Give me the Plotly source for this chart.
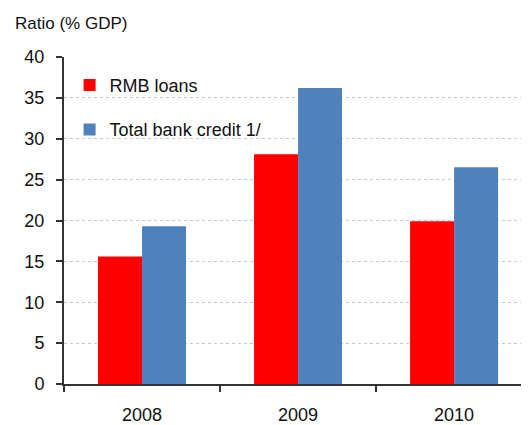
import plotly.graph_objects as go

years = ["2008", "2009", "2010"]
rmb_loans = [15.6, 28.1, 19.9]
total_credit = [19.3, 36.2, 26.5]
y_ticks = [0, 5, 10, 15, 20, 25, 30, 35, 40]

font = "Liberation Sans, Arial, sans-serif"

fig = go.Figure()
fig.add_trace(go.Bar(x=years, y=rmb_loans, name="RMB loans",
                     marker=dict(color="#ff0000", line=dict(width=0)),
                     legendgroup="a"))
fig.add_trace(go.Bar(x=years, y=total_credit, name="Total bank credit 1/",
                     marker=dict(color="#4f81bd", line=dict(width=0)),
                     legendgroup="b"))

fig.update_layout(
    width=521, height=417,
    margin=dict(l=56, r=0, t=49, b=41),
    plot_bgcolor="white", paper_bgcolor="white",
    font=dict(family=font, size=18, color="#111"),
    barmode="group", bargap=0.436, bargroupgap=0,
    showlegend=True,
    legend=dict(x=0.012, y=0.97, xanchor="left", yanchor="top",
                bgcolor="rgba(0,0,0,0)", font=dict(size=18),
                tracegroupgap=18, traceorder="grouped"),
    annotations=[dict(text="Ratio (% GDP)", xref="paper", yref="paper",
                      x=-0.11, y=1.0, yshift=34, xanchor="left", yanchor="middle",
                      showarrow=False, font=dict(size=17))],
)
fig.update_xaxes(range=[-0.5, 2.48], showline=True, linecolor="#333", linewidth=2,
                 ticks="outside", tickson="boundaries", ticklen=6, tickwidth=2,
                 tickcolor="#333", ticklabelstandoff=13, showgrid=False)
fig.update_yaxes(range=[0, 40], tickvals=y_ticks, showline=True, linecolor="#333",
                 linewidth=2, ticks="outside", ticklen=6, tickwidth=2, tickcolor="#333",
                 ticklabelstandoff=8, showgrid=True, gridcolor="#c8c8c8",
                 griddash="dot", gridwidth=1, zeroline=False)

fig.write_html("out.html")
